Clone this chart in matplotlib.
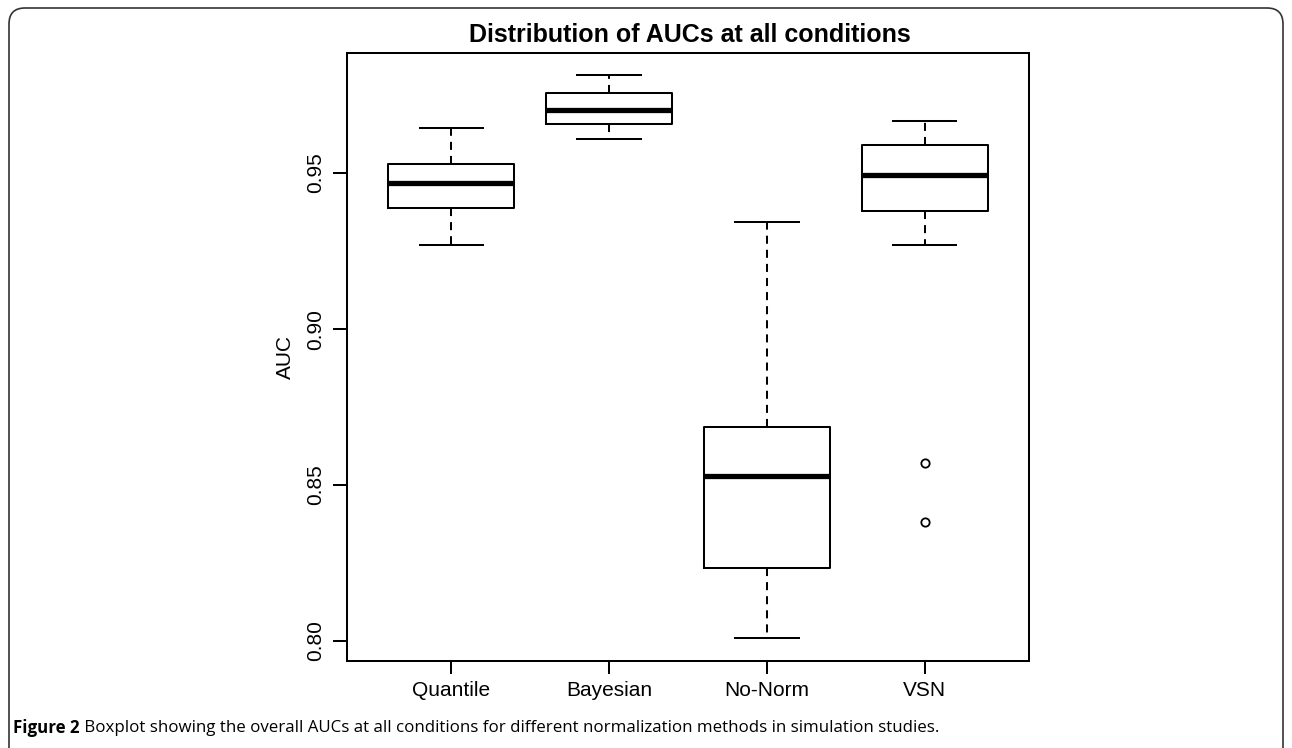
import matplotlib
matplotlib.use("Agg")
import matplotlib.pyplot as plt
from matplotlib.patches import FancyBboxPatch
from matplotlib.transforms import IdentityTransform

# ---- data ----
categories = ["Quantile", "Bayesian", "No-Norm", "VSN"]
whisker_low = [0.9271, 0.9608, 0.8010, 0.9271]
q1 = [0.9389, 0.9656, 0.8234, 0.9378]
median = [0.9467, 0.9702, 0.8530, 0.9494]
q3 = [0.9528, 0.9757, 0.8687, 0.9590]
whisker_high = [0.9646, 0.9814, 0.9343, 0.9668]
outliers = [[], [], [], [0.8572, 0.8383]]
yticks = [0.80, 0.85, 0.90, 0.95]

title = "Distribution of AUCs at all conditions"
ylabel = "AUC"
caption_bold = "Figure 2"
caption_rest = " Boxplot showing the overall AUCs at all conditions for different normalization methods in simulation studies."

W, H = 1292, 748
fig = plt.figure(figsize=(W / 100, H / 100), dpi=100)
fig.patch.set_facecolor("white")

ax = fig.add_axes([347 / W, 1 - 661 / H, (1029 - 347) / W, (661 - 53) / H])

stats = []
for i, c in enumerate(categories):
    stats.append(dict(label=c, whislo=whisker_low[i], q1=q1[i], med=median[i],
                      q3=q3[i], whishi=whisker_high[i], fliers=outliers[i]))

lw = 1.45
ax.bxp(stats, positions=range(1, len(categories) + 1), widths=0.8, capwidths=0.4,
       boxprops=dict(color="black", linewidth=lw),
       whiskerprops=dict(color="black", linewidth=lw, linestyle=(0, (4, 3))),
       capprops=dict(color="black", linewidth=lw),
       medianprops=dict(color="black", linewidth=3.8, solid_capstyle="butt"),
       flierprops=dict(marker="o", markerfacecolor="none", markeredgecolor="black",
                       markersize=6, markeredgewidth=1.3))

ax.set_xlim(0.34, 4.66)
ax.set_ylim(0.7936, 0.9885)
ax.set_yticks(yticks)
ax.set_yticklabels([f"{v:.2f}" for v in yticks], rotation=90, va="center")
ax.set_xticks(range(1, len(categories) + 1))
ax.set_xticklabels(categories)

font = "Liberation Sans"
for lab in ax.get_xticklabels() + ax.get_yticklabels():
    lab.set_fontfamily(font)
    lab.set_fontsize(15)
ax.tick_params(axis="y", length=10, width=lw, pad=6)
ax.tick_params(axis="x", length=9.5, width=lw, pad=5)
for s in ax.spines.values():
    s.set_linewidth(lw)
    s.set_color("black")

fig.text(690 / W, 1 - 35 / H, title, ha="center", va="center",
         fontsize=18, fontweight="bold", family=font)
fig.text(285 / W, 1 - 357 / H, ylabel, ha="center", va="center", rotation=90,
         fontsize=15, family=font)

# caption
cap_font = "Open Sans"
t1 = fig.text(13 / W, 1 - 728 / H, caption_bold, ha="left", va="center",
              fontsize=12.2, fontweight="bold", family=cap_font)
fig.canvas.draw()
bb = t1.get_window_extent(renderer=fig.canvas.get_renderer())
fig.text(bb.x1 / W, 1 - 728 / H, caption_rest, ha="left", va="center",
         fontsize=12.2, family=cap_font)

# rounded frame around the figure panel
frame = FancyBboxPatch((9, -20), 1274, H - 8 + 20,
                       boxstyle="round,pad=0,rounding_size=16",
                       transform=IdentityTransform(), fill=False,
                       edgecolor="#333333", linewidth=1.2)
fig.add_artist(frame)

fig.savefig("out.png", dpi=100, facecolor="white")
